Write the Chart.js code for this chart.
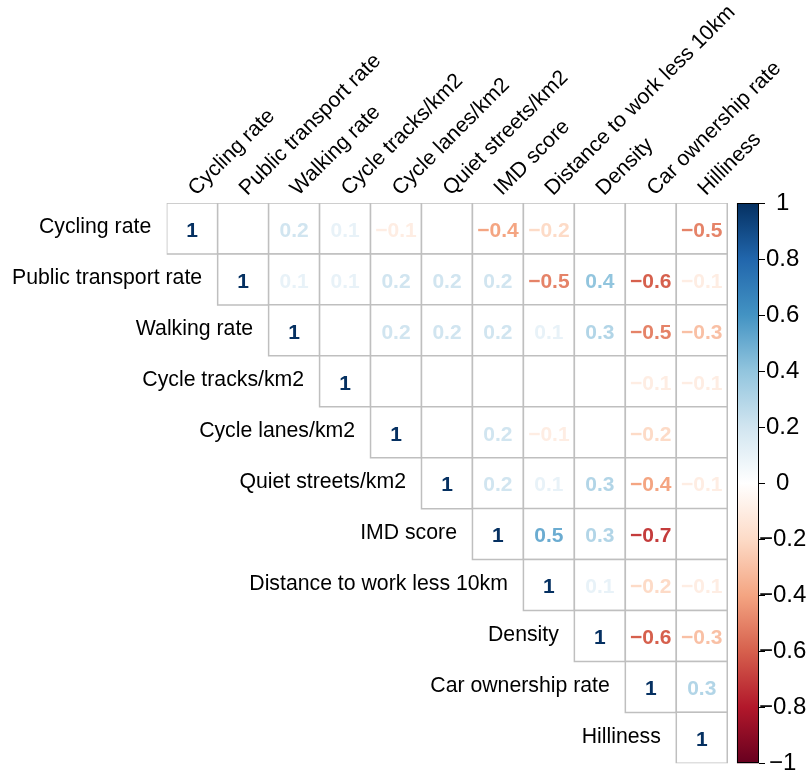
<!DOCTYPE html>
<html>
<head>
<meta charset="utf-8">
<script src="https://cdn.jsdelivr.net/npm/chart.js@4"></script>
<style>
  html, body { margin: 0; padding: 0; background: #fff; }
  #wrap { width: 808px; height: 773px; }
</style>
</head>
<body>
<div id="wrap"><canvas id="corr" width="808" height="773"></canvas></div>
<script>
// Variable names (rows and columns of the matrix)
const variables = [
  'Cycling rate', 'Public transport rate', 'Walking rate', 'Cycle tracks/km2',
  'Cycle lanes/km2', 'Quiet streets/km2', 'IMD score', 'Distance to work less 10km',
  'Density', 'Car ownership rate', 'Hilliness'
];

// Upper-triangle correlations, each row starting at its diagonal cell.
// null = not significant (cell left blank)
const rCyclingRate      = [1, null, 0.2, 0.1, -0.1, null, -0.4, -0.2, null, null, -0.5];
const rPublicTransport  = [1, 0.1, 0.1, 0.2, 0.2, 0.2, -0.5, 0.4, -0.6, -0.1];
const rWalkingRate      = [1, null, 0.2, 0.2, 0.2, 0.1, 0.3, -0.5, -0.3];
const rCycleTracks      = [1, null, null, null, null, null, -0.1, -0.1];
const rCycleLanes       = [1, null, 0.2, -0.1, null, -0.2, null];
const rQuietStreets     = [1, 0.2, 0.1, 0.3, -0.4, -0.1];
const rIMDScore         = [1, 0.5, 0.3, -0.7, null];
const rDistanceToWork   = [1, 0.1, -0.2, -0.1];
const rDensity          = [1, -0.6, -0.3];
const rCarOwnership     = [1, 0.3];
const rHilliness        = [1];

// Colour legend ticks
const colorbarTicks  = [-1, -0.8, -0.6, -0.4, -0.2, 0, 0.2, 0.4, 0.6, 0.8, 1];
const colorbarLabels = ['\u22121', '\u22120.8', '\u22120.6', '\u22120.4', '\u22120.2', '0', '0.2', '0.4', '0.6', '0.8', '1'];

// RdBu diverging palette, from -1 to 1
const palette = ['#67001F', '#B2182B', '#D6604D', '#F4A582', '#FDDBC7', '#FFFFFF',
                 '#D1E5F0', '#92C5DE', '#4393C3', '#2166AC', '#053061'];

const matrixRows = [rCyclingRate, rPublicTransport, rWalkingRate, rCycleTracks, rCycleLanes,
  rQuietStreets, rIMDScore, rDistanceToWork, rDensity, rCarOwnership, rHilliness];

// one point per upper-triangle cell
const cells = [];
matrixRows.forEach((row, i) => {
  row.forEach((v, k) => cells.push({ x: i + k, y: i, v: v }));
});

// the colour legend sits in x-scale units to the right of the grid
const colorbarX = [10.69, 11.123];

const FONT = '"Liberation Sans", Arial, Helvetica, sans-serif';

function hexToRgb(h) {
  return [parseInt(h.slice(1, 3), 16), parseInt(h.slice(3, 5), 16), parseInt(h.slice(5, 7), 16)];
}
function corrColor(v) {
  const t = (v + 1) / 2 * (palette.length - 1);
  const k = Math.min(Math.floor(t), palette.length - 2);
  const f = t - k;
  const a = hexToRgb(palette[k]), b = hexToRgb(palette[k + 1]);
  const c = a.map((x, n) => Math.round(x + (b[n] - x) * f));
  return 'rgb(' + c.join(',') + ')';
}
function fmt(v) {
  if (v === 1) return '1';
  const s = Math.abs(v).toFixed(1);
  return v < 0 ? '\u2212' + s : s;
}

const corrDecor = {
  id: 'corrDecor',
  afterDatasetsDraw(chart) {
    const ctx = chart.ctx;
    const xs = chart.scales.x, ys = chart.scales.y, cb = chart.scales.cb;
    ctx.save();

    // coefficients inside cells
    ctx.font = 'bold 21px ' + FONT;
    ctx.textAlign = 'center';
    ctx.textBaseline = 'middle';
    chart.getDatasetMeta(0).data.forEach((el, k) => {
      const c = cells[k];
      if (c.v === null) return;
      ctx.fillStyle = corrColor(c.v);
      ctx.fillText(fmt(c.v), el.x, el.y + 2.5);
    });

    // row labels, to the left of each diagonal cell
    ctx.font = '21.25px ' + FONT;
    ctx.fillStyle = '#000';
    ctx.textAlign = 'right';
    variables.forEach((name, i) => {
      ctx.fillText(name, xs.getPixelForValue(i - 0.5) - 15.5, ys.getPixelForValue(i) - 1);
    });

    // column labels, rotated above the grid
    ctx.textAlign = 'left';
    const top = ys.getPixelForValue(-0.5);
    variables.forEach((name, j) => {
      ctx.save();
      ctx.translate(xs.getPixelForValue(j), top - 11);
      ctx.rotate(-Math.PI / 4);
      ctx.fillText(name, 0, 0);
      ctx.restore();
    });

    // colour legend bar
    const x0 = xs.getPixelForValue(colorbarX[0]);
    const x1 = xs.getPixelForValue(colorbarX[1]);
    const yTop = cb.getPixelForValue(1), yBot = cb.getPixelForValue(-1);
    const grad = ctx.createLinearGradient(0, yBot, 0, yTop);
    palette.forEach((col, k) => grad.addColorStop(k / (palette.length - 1), col));
    ctx.fillStyle = grad;
    ctx.fillRect(x0, yTop, x1 - x0, yBot - yTop);
    ctx.strokeStyle = '#000';
    ctx.lineWidth = 1;
    ctx.strokeRect(Math.round(x0) + 0.5, Math.round(yTop) + 0.5, Math.round(x1 - x0) - 1, Math.round(yBot - yTop) - 1);

    ctx.restore();
  }
};

Chart.defaults.font.family = FONT;

new Chart(document.getElementById('corr'), {
  type: 'scatter',
  data: {
    datasets: [{
      data: cells,
      pointStyle: 'rect',
      pointRadius: (ctx) => {
        const s = ctx.chart.scales.x;
        return Math.abs(s.getPixelForValue(1) - s.getPixelForValue(0)) / Math.SQRT2;
      },
      pointHoverRadius: 0,
      backgroundColor: '#ffffff',
      borderColor: '#bfbfbf',
      borderWidth: 1.5
    }]
  },
  options: {
    responsive: false,
    devicePixelRatio: 1,
    animation: false,
    events: [],
    layout: { padding: { top: 203, left: 166.7, right: 0, bottom: 9.7 } },
    plugins: { legend: { display: false }, tooltip: { enabled: false } },
    scales: {
      x: { type: 'linear', min: -0.5, max: colorbarX[1], display: false },
      y: { type: 'linear', min: -0.5, max: 10.5, reverse: true, display: false },
      cb: {
        type: 'linear',
        axis: 'y',
        position: 'right',
        min: -1,
        max: 1,
        afterBuildTicks(scale) {
          scale.ticks = colorbarTicks.map(v => ({ value: v }));
        },
        afterFit(scale) {
          scale.width = 49;
          scale.paddingTop = 0;
          scale.paddingBottom = 0;
        },
        border: { display: false },
        grid: { drawOnChartArea: false, color: '#000', lineWidth: 1, tickLength: 6 },
        ticks: {
          autoSkip: false,
          crossAlign: 'center',
          padding: -6,
          color: '#000',
          font: { size: 24 },
          callback: (value, index) => colorbarLabels[index]
        }
      }
    }
  },
  plugins: [corrDecor]
});
</script>
</body>
</html>
